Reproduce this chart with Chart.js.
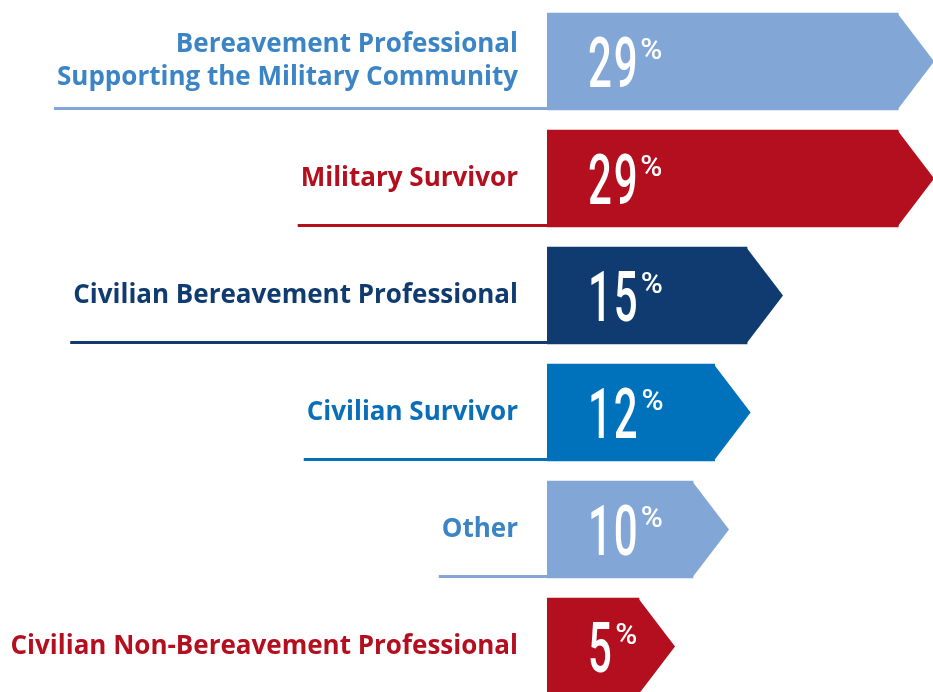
<!DOCTYPE html>
<html lang="en">
<head>
  <meta charset="UTF-8">
  <title>Respondents by group</title>
  <script src="https://cdn.jsdelivr.net/npm/chart.js"></script>
  <style>
    body {
      margin: 0;
      background: #fff;
      overflow: hidden;
    }
    #wrap {
      width: 933px;
      height: 706px;
    }
  </style>
</head>
<body>
  <div id="wrap">
    <canvas id="groupChart" width="933" height="706"></canvas>
  </div>

<script>
  const categories = [
    ['Bereavement Professional', 'Supporting the Military Community'],
    'Military Survivor',
    'Civilian Bereavement Professional',
    'Civilian Survivor',
    'Other',
    'Civilian Non-Bereavement Professional'
  ];
  const shares = [29, 29, 15, 12, 10, 5];
  const barColors = ['#82a7d6', '#b40f1e', '#0f3b70', '#0071bb', '#82a7d6', '#b40f1e'];
  const labelColors = ['#3b84c5', '#b40f1e', '#0f3b70', '#0a6fb8', '#3b84c5', '#b40f1e'];

  const labelFont = 'bold 26px "Open Sans", sans-serif';
  const xMin = -3.52;

  // labels on the left, arrow tips, underlines and the big white numbers
  const arrowPlugin = {
    id: 'arrows',
    afterDatasetsDraw(chart) {
      const ctx = chart.ctx;
      const meta = chart.getDatasetMeta(0);
      const labelRight = chart.chartArea.left - 29;
      ctx.save();
      meta.data.forEach((bar, i) => {
        const p = bar.getProps(['x', 'y', 'base', 'height'], true);
        const top = p.y - p.height / 2;
        const bot = p.y + p.height / 2;

        ctx.fillStyle = barColors[i];
        ctx.beginPath();
        ctx.moveTo(p.x - 1, top);
        ctx.lineTo(p.x + 36, p.y);
        ctx.lineTo(p.x - 1, bot);
        ctx.closePath();
        ctx.fill();

        // category label
        ctx.font = labelFont;
        ctx.textAlign = 'right';
        ctx.textBaseline = 'middle';
        const lines = [].concat(categories[i]);
        const lh = 33;
        ctx.fillStyle = labelColors[i];
        lines.forEach((l, k) => {
          ctx.fillText(l, labelRight, p.y + (k - (lines.length - 1) / 2) * lh);
        });

        // underline from the label's left edge to the bar
        const w = Math.max(...lines.map(l => ctx.measureText(l).width));
        const left = labelRight - w - 3;
        ctx.fillStyle = barColors[i];
        ctx.fillRect(left, bot - 3, p.base - left, 3);

        // value
        ctx.fillStyle = '#fff';
        ctx.textAlign = 'left';
        ctx.textBaseline = 'alphabetic';
        ctx.font = '500 70px Roboto';
        const txt = String(shares[i]);
        const sx = 0.6;
        const nx = p.base + 41;
        ctx.save();
        ctx.translate(nx, p.y + 25.5);
        ctx.scale(sx, 1);
        ctx.letterSpacing = '3px';
        ctx.fillText(txt, 0, 0);
        const inkRight = ctx.measureText(txt).actualBoundingBoxRight * sx;
        ctx.restore();
        ctx.font = '500 30px Roboto';
        ctx.fillText('%', nx + inkRight + 5, p.y - 3);
      });
      ctx.restore();
    }
  };

  new Chart(document.getElementById('groupChart'), {
    type: 'bar',
    data: {
      labels: categories,
      datasets: [{
        data: shares,
        base: xMin,
        backgroundColor: barColors,
        barThickness: 97,
        borderWidth: 0
      }]
    },
    options: {
      indexAxis: 'y',
      responsive: false,
      animation: false,
      layout: { padding: { top: 3, bottom: 1, left: 547, right: 0 } },
      plugins: {
        legend: { display: false },
        tooltip: { enabled: false }
      },
      scales: {
        x: {
          display: false,
          min: xMin,
          max: 32.22
        },
        y: {
          display: false
        }
      }
    },
    plugins: [arrowPlugin]
  });
</script>
</body>
</html>
